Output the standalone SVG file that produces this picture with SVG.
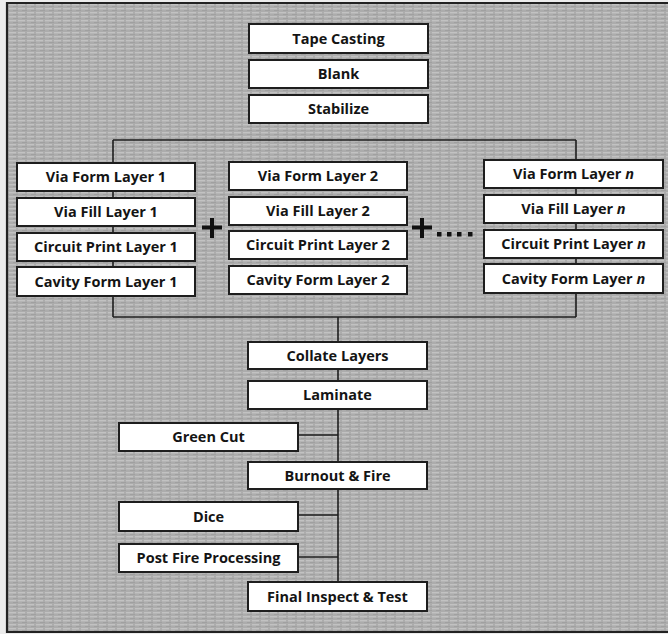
<svg xmlns="http://www.w3.org/2000/svg" width="668" height="634" viewBox="0 0 668 634">
  <style>
    .box rect { fill: #ffffff; stroke: #1e1e1e; stroke-width: 2; }
    .box text { font-family: "Open Sans", "Liberation Sans", sans-serif; font-weight: 700; font-size: 14.5px; fill: #141414; text-anchor: middle; }
    .wire { fill: none; stroke: #1e1e1e; stroke-width: 1.6; }
    .it { font-style: italic; }
  </style>
  <defs>
    <!-- woven halftone shading of the panel -->
    <pattern id="weave" width="9" height="4" patternUnits="userSpaceOnUse">
      <rect width="9" height="4" fill="#acacac"/>
      <rect x="0" y="0" width="7" height="1.4" fill="#c2c2c2"/>
      <rect x="4" y="2" width="5" height="1" fill="#a0a0a0"/>
    </pattern>
  </defs>

  <!-- page and framed panel -->
  <rect width="668" height="634" fill="#ececec"/>
  <rect x="7" y="3" width="662" height="629" fill="url(#weave)"/>
  <path d="M669,3 H7 V632 H669" fill="none" stroke="#222" stroke-width="2.2"/>

  <g id="connectors">
    <path class="wire" d="M113,140 H576 M113,140 V317 M576,140 V317 M113,317 H576"/>
    <path class="wire" d="M338,317 V582"/>
    <path class="wire" d="M298,435 H338 M298,515 H338 M298,557 H338"/>
  </g>

  <g id="tape-casting" class="box"><rect x="249" y="24" width="179" height="29"/><text x="338.5" y="43.5">Tape Casting</text></g>
  <g id="blank" class="box"><rect x="249" y="60" width="179" height="28"/><text x="338.5" y="79">Blank</text></g>
  <g id="stabilize" class="box"><rect x="249" y="95" width="179" height="28"/><text x="338.5" y="114">Stabilize</text></g>

  <g id="via-form-1" class="box"><rect x="17" y="163" width="178" height="28"/><text x="106" y="182">Via Form Layer 1</text></g>
  <g id="via-fill-1" class="box"><rect x="17" y="198" width="178" height="28"/><text x="106" y="217">Via Fill Layer 1</text></g>
  <g id="circuit-print-1" class="box"><rect x="17" y="233" width="178" height="28"/><text x="106" y="252">Circuit Print Layer 1</text></g>
  <g id="cavity-form-1" class="box"><rect x="17" y="267" width="178" height="29"/><text x="106" y="286.5">Cavity Form Layer 1</text></g>

  <g id="via-form-2" class="box"><rect x="229" y="162" width="178" height="28"/><text x="318" y="181">Via Form Layer 2</text></g>
  <g id="via-fill-2" class="box"><rect x="229" y="197" width="178" height="28"/><text x="318" y="216">Via Fill Layer 2</text></g>
  <g id="circuit-print-2" class="box"><rect x="229" y="231" width="178" height="28"/><text x="318" y="250">Circuit Print Layer 2</text></g>
  <g id="cavity-form-2" class="box"><rect x="229" y="266" width="178" height="28"/><text x="318" y="285">Cavity Form Layer 2</text></g>

  <g id="via-form-n" class="box"><rect x="484" y="160" width="179" height="28"/><text x="573.5" y="179">Via Form Layer <tspan class="it">n</tspan></text></g>
  <g id="via-fill-n" class="box"><rect x="484" y="195" width="179" height="28"/><text x="573.5" y="214">Via Fill Layer <tspan class="it">n</tspan></text></g>
  <g id="circuit-print-n" class="box"><rect x="484" y="230" width="179" height="28"/><text x="573.5" y="249">Circuit Print Layer <tspan class="it">n</tspan></text></g>
  <g id="cavity-form-n" class="box"><rect x="484" y="264" width="179" height="29"/><text x="573.5" y="283.5">Cavity Form Layer <tspan class="it">n</tspan></text></g>

  <!-- plus signs and ellipsis between the layer columns -->
  <g id="plus-signs" fill="#111">
    <rect x="202" y="225.5" width="20" height="4"/><rect x="210" y="218" width="4" height="20"/>
    <rect x="412" y="225.5" width="20" height="4"/><rect x="420" y="218" width="4" height="20"/>
    <rect x="437" y="232" width="4.5" height="4.5"/><rect x="447" y="232" width="4.5" height="4.5"/>
    <rect x="457" y="232" width="4.5" height="4.5"/><rect x="468" y="232" width="4.5" height="4.5"/>
  </g>

  <g id="collate-layers" class="box"><rect x="248" y="342" width="179" height="27"/><text x="337.5" y="360.5">Collate Layers</text></g>
  <g id="laminate" class="box"><rect x="248" y="381" width="179" height="28"/><text x="337.5" y="400">Laminate</text></g>
  <g id="green-cut" class="box"><rect x="119" y="423" width="179" height="28"/><text x="208.5" y="442">Green Cut</text></g>
  <g id="burnout-fire" class="box"><rect x="248" y="462" width="179" height="27"/><text x="337.5" y="480.5">Burnout &amp; Fire</text></g>
  <g id="dice" class="box"><rect x="119" y="502" width="179" height="29"/><text x="208.5" y="521.5">Dice</text></g>
  <g id="post-fire" class="box"><rect x="119" y="544" width="179" height="28"/><text x="208.5" y="563">Post Fire Processing</text></g>
  <g id="final-inspect" class="box"><rect x="248" y="582" width="179" height="29"/><text x="337.5" y="601.5">Final Inspect &amp; Test</text></g>
</svg>
